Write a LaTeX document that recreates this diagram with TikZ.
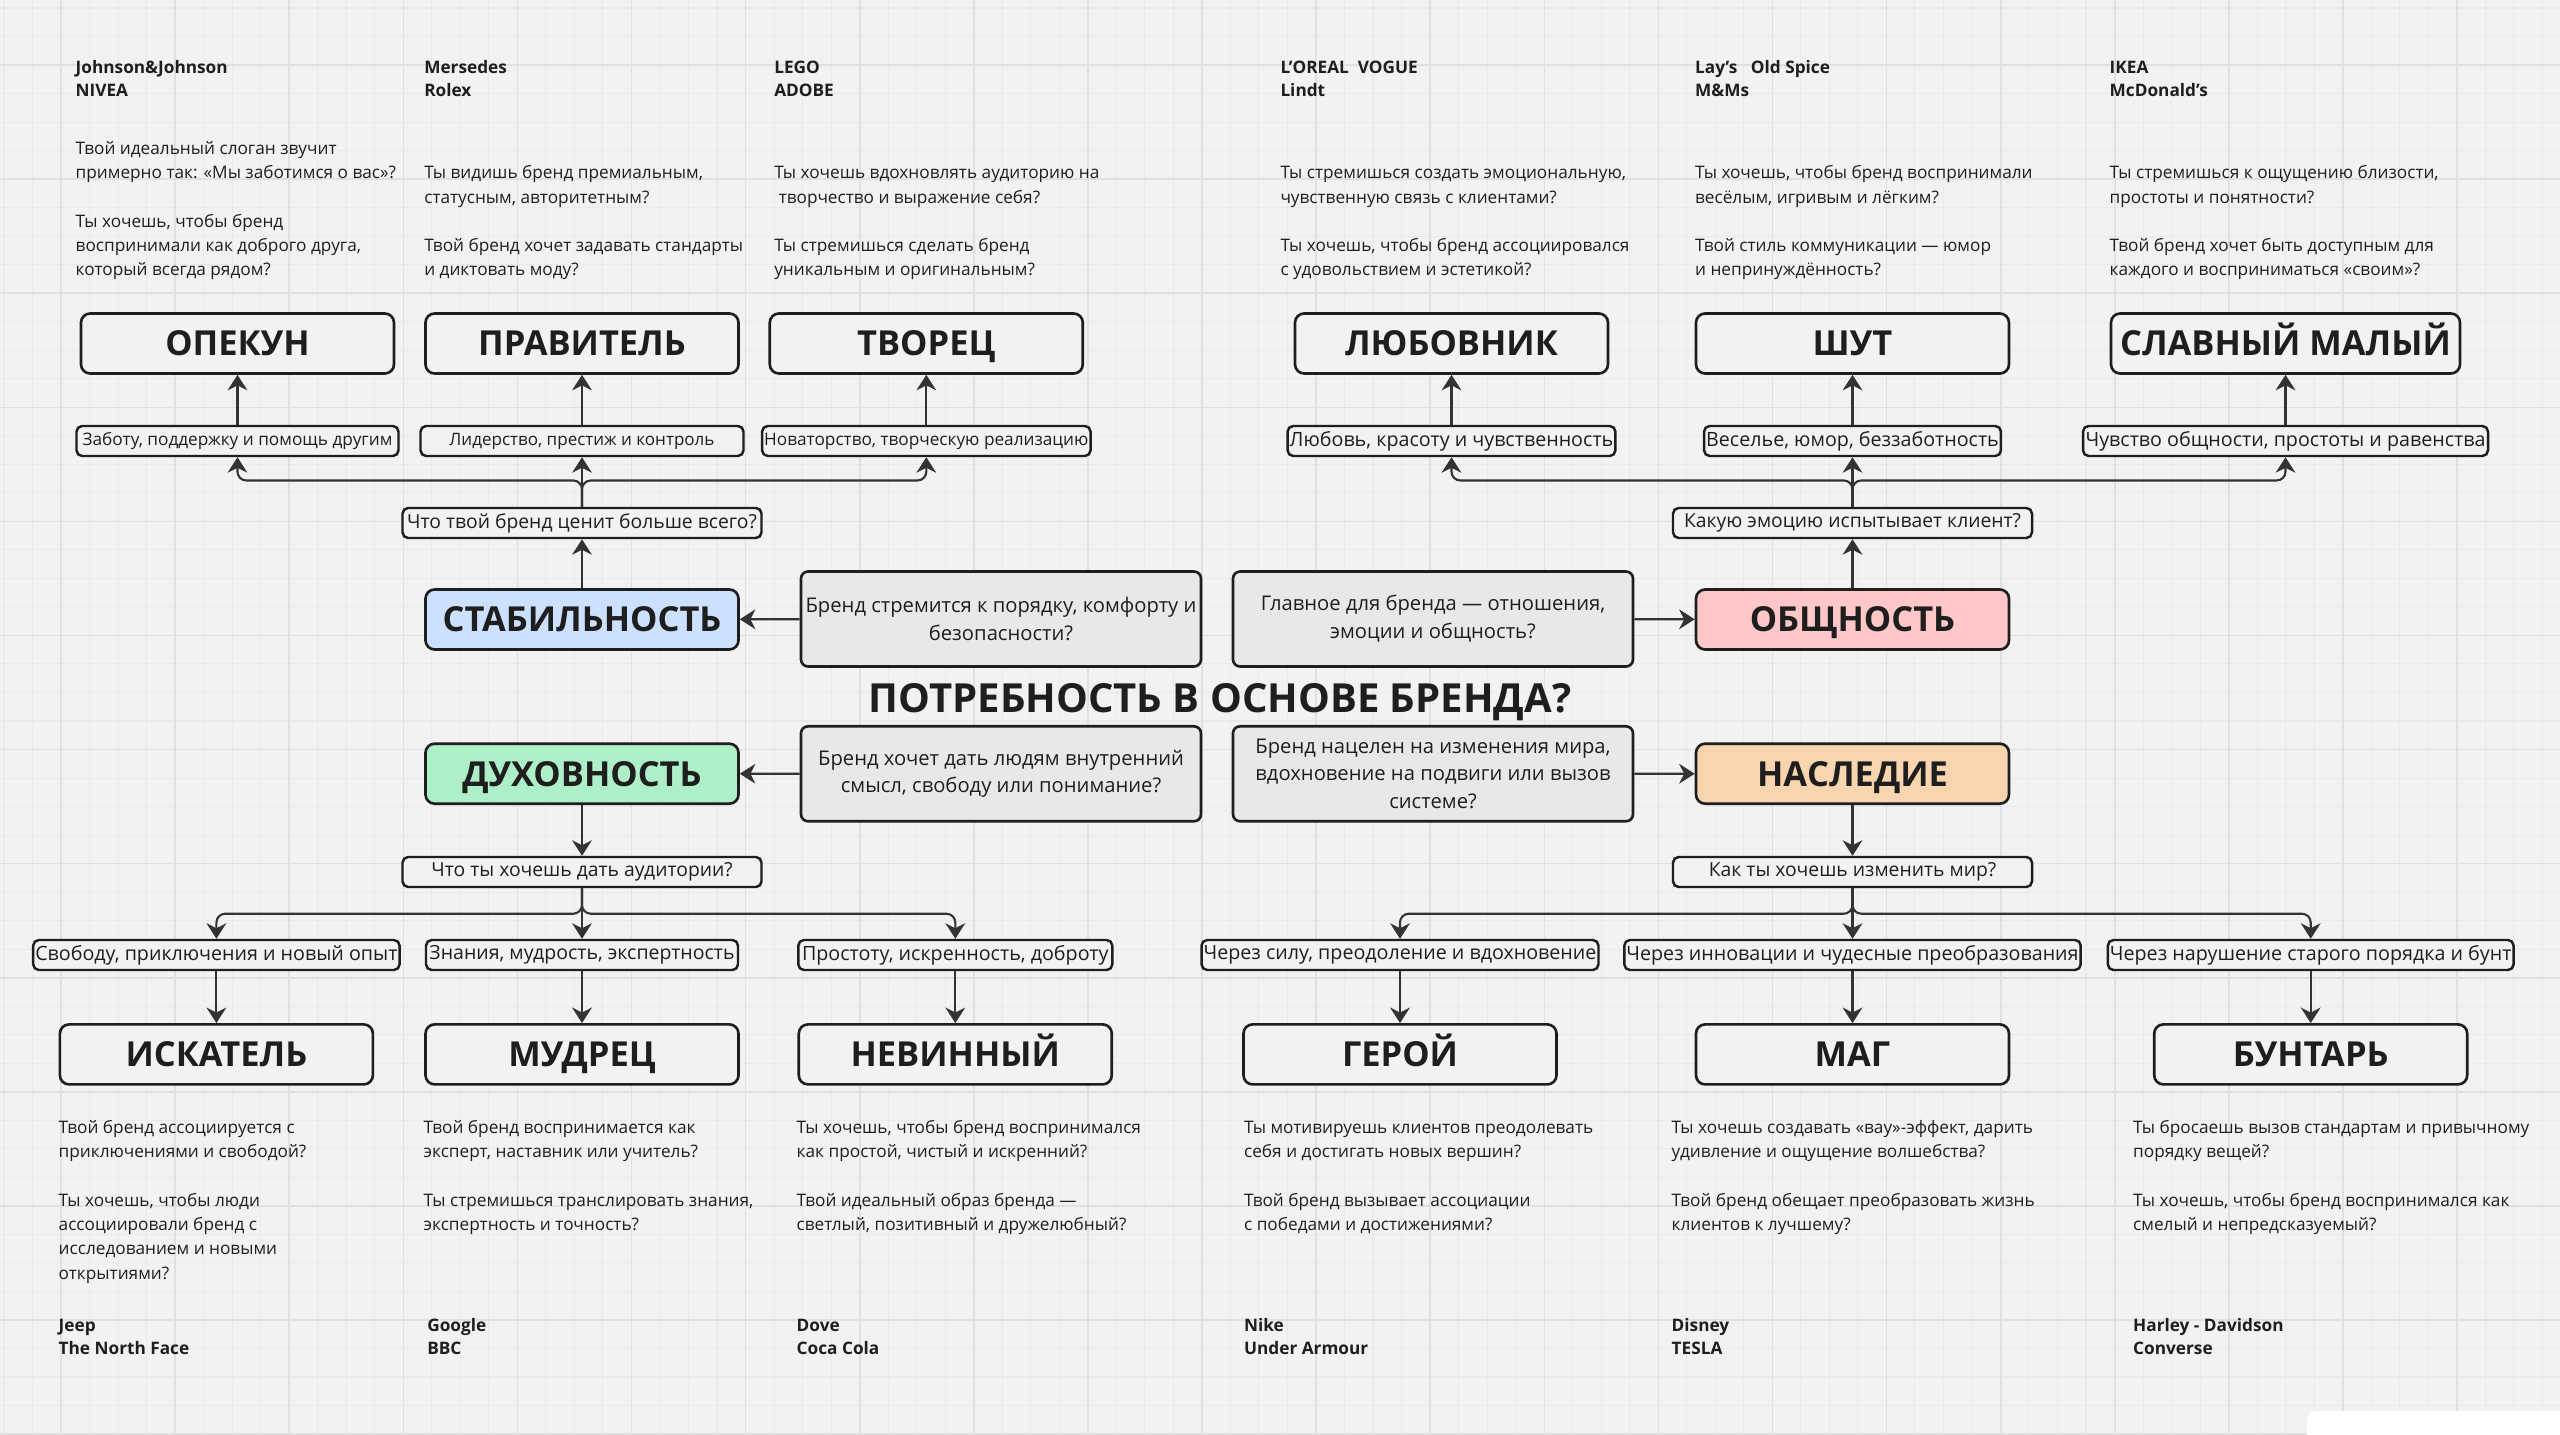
\documentclass[tikz,border=0pt]{standalone}
\usepackage{fontspec}
\setmainfont{Open Sans}
\usetikzlibrary{positioning,arrows.meta}

\definecolor{paper}{HTML}{F2F2F2}
\definecolor{gridmin}{HTML}{EAEAEA}
\definecolor{gridmaj}{HTML}{E0E0E0}
\definecolor{ink}{HTML}{1E1E1E}
\definecolor{link}{HTML}{333333}
\definecolor{greybox}{HTML}{E8E8E8}
\definecolor{stabfill}{HTML}{CCE0FF}
\definecolor{obshfill}{HTML}{FFC7C7}
\definecolor{duhfill}{HTML}{ADF0C7}
\definecolor{naslfill}{HTML}{F8D4AF}

\newcommand{\archfont}{\fontsize{9.8}{11}\selectfont\bfseries}
\newcommand{\titlefont}{\fontsize{11.4}{13}\selectfont\bfseries}
\newcommand{\cardfont}{\fontsize{5.75}{7.9}\selectfont}
\newcommand{\askfont}{\fontsize{5.5}{6}\selectfont}
\newcommand{\bodyfont}{\fontsize{4.9}{6.92}\selectfont}
\newcommand{\brandfont}{\fontsize{4.9}{6.72}\selectfont\bfseries}
\newcommand{\fsz}[1]{\fontsize{#1}{#1}\selectfont}

\begin{document}
\begin{tikzpicture}[node distance=1cm,on grid,
    arch/.style={draw=ink,fill=paper,line width=0.75pt,rounded corners=2.6pt,minimum width=3.13cm,minimum height=0.6cm,inner sep=0pt,text height=7pt,text depth=0pt,font=\archfont,text=ink},
    valbox/.style={draw=ink,fill=paper,line width=0.7pt,rounded corners=1.6pt,minimum height=0.3cm,inner xsep=0.6pt,inner ysep=0pt,text=ink},
    askbox/.style={valbox,minimum width=3.59cm,font=\askfont},
    greycard/.style={draw=ink,fill=greybox,line width=0.75pt,rounded corners=2pt,minimum width=4.0cm,minimum height=0.95cm,inner sep=0pt,align=center,font=\cardfont,text=ink},
    note/.style={anchor=base west,align=left,inner sep=0pt,font=\bodyfont,text=ink},
    brands/.style={note,font=\brandfont},
    arr/.style={draw=link,line width=0.6pt,-{Stealth[length=4.4pt,width=5.6pt,inset=1.4pt]}},
    branch/.style={arr,rounded corners=2.5pt},
    minline/.style={draw=gridmin,line width=0.3pt},
    majline/.style={draw=gridmaj,line width=0.45pt}]
	\useasboundingbox (0,0) rectangle (25.6,-14.35);
	\begin{scope}
	    \clip (0,0) rectangle (25.6,-14.35);
	    \fill[paper] (0,0) rectangle (25.6,-14.35);
	    \foreach \i in {0,...,89} \draw[minline] ({0.04+0.2852*\i},0) -- ++(0,-14.35);
	    \foreach \j in {0,...,50} \draw[minline] (0,{-0.08-0.2852*\j}) -- ++(25.6,0);
	    \foreach \i in {0,...,21} \draw[majline] ({0.61+1.141*\i},0) -- ++(0,-14.35);
	    \foreach \j in {0,...,12} \draw[majline] (0,{-0.65-1.141*\j}) -- ++(25.6,0);
	    \fill[white,rounded corners=2.5pt] (23.07,-14.11) rectangle (26,-15);
	\end{scope}

	\node[font=\titlefont,text=ink] (title) at (12.2,-7.02) {ПОТРЕБНОСТЬ В ОСНОВЕ БРЕНДА?};

	\node[arch,fill=stabfill] (stab) at (5.82,-6.195) {СТАБИЛЬНОСТЬ};
	\node[arch,fill=obshfill] (obshn) at (18.525,-6.195) {ОБЩНОСТЬ};
	\node[arch,fill=duhfill] (duhov) at (5.82,-7.737) {ДУХОВНОСТЬ};
	\node[arch,fill=naslfill] (nasled) at (18.525,-7.737) {НАСЛЕДИЕ};

	\node[greycard] (cstab) at (10.01,-6.19) {Бренд стремится к порядку, комфорту и\\безопасности?};
	\node[greycard] (cobsh) at (14.33,-6.19) {Главное для бренда — отношения,\\эмоции и общность?};
	\node[greycard] (cduh) at (10.01,-7.738) {Бренд хочет дать людям внутренний\\смысл, свободу или понимание?};
	\node[greycard] (cnasl) at (14.33,-7.738) {Бренд нацелен на изменения мира,\\вдохновение на подвиги или вызов\\системе?};

	\node[askbox,above=0.965cm of stab] (qcenit) {Что твой бренд ценит больше всего?};
	\node[valbox,above=0.82cm of qcenit,minimum width=3.23cm,font=\fsz{4.85}] (lider) {Лидерство, престиж и контроль};
	\node[valbox,left=3.445cm of lider,minimum width=3.22cm,font=\fsz{4.9}] (zabota) {Заботу, поддержку и помощь другим};
	\node[valbox,right=3.443cm of lider,minimum width=3.23cm,font=\fsz{4.9}] (novator) {Новаторство, творческую реализацию};
	\node[arch,above=0.975cm of zabota] (opekun) {ОПЕКУН};
	\node[arch,above=0.975cm of lider] (pravitel) {ПРАВИТЕЛЬ};
	\node[arch,above=0.975cm of novator] (tvorets) {ТВОРЕЦ};

	\node[askbox,above=0.965cm of obshn] (qemoc) {Какую эмоцию испытывает клиент?};
	\node[valbox,above=0.82cm of qemoc,minimum width=2.95cm,font=\fsz{5.6}] (vesele) {Веселье, юмор, беззаботность};
	\node[valbox,left=4.01cm of vesele,minimum width=3.26cm,font=\fsz{5.6}] (lyubov) {Любовь, красоту и чувственность};
	\node[valbox,right=4.33cm of vesele,minimum width=4.05cm,font=\fsz{5.6}] (obshch) {Чувство общности, простоты и равенства};
	\node[arch,above=0.975cm of lyubov] (lyubovnik) {ЛЮБОВНИК};
	\node[arch,above=0.975cm of vesele] (shut) {ШУТ};
	\node[arch,above=0.975cm of obshch,minimum width=3.49cm] (malyj) {СЛАВНЫЙ МАЛЫЙ};

	\node[askbox,below=0.983cm of duhov] (qdat) {Что ты хочешь дать аудитории?};
	\node[valbox,below=0.83cm of qdat,minimum width=3.12cm,font=\fsz{5.55}] (znanie) {Знания, мудрость, экспертность};
	\node[valbox,left=3.656cm of znanie,minimum width=3.66cm,font=\fsz{5.6}] (svoboda) {Свободу, приключения и новый опыт};
	\node[valbox,right=3.733cm of znanie,minimum width=3.14cm,font=\fsz{5.6}] (prostota) {Простоту, искренность, доброту};
	\node[arch,below=0.994cm of svoboda] (iskatel) {ИСКАТЕЛЬ};
	\node[arch,below=0.994cm of znanie] (mudrets) {МУДРЕЦ};
	\node[arch,below=0.994cm of prostota] (nevinnyj) {НЕВИННЫЙ};

	\node[askbox,below=0.983cm of nasled] (qmir) {Как ты хочешь изменить мир?};
	\node[valbox,below=0.83cm of qmir,minimum width=4.53cm,font=\fsz{5.6}] (innov) {Через инновации и чудесные преобразования};
	\node[valbox,left=4.525cm of innov,minimum width=3.96cm,font=\fsz{5.6}] (sila) {Через силу, преодоление и вдохновение};
	\node[valbox,right=4.582cm of innov,minimum width=4.04cm,font=\fsz{5.6}] (bunt) {Через нарушение старого порядка и бунт};
	\node[arch,below=0.994cm of sila] (geroj) {ГЕРОЙ};
	\node[arch,below=0.994cm of innov] (mag) {МАГ};
	\node[arch,below=0.994cm of bunt] (buntar) {БУНТАРЬ};

	\coordinate[above=0.263cm of qcenit.north] (brcenit);
	\coordinate[above=0.263cm of qemoc.north] (bremoc);
	\coordinate[below=0.255cm of qdat.south] (brdat);
	\coordinate[below=0.255cm of qmir.south] (brmir);

	\node[brands] (b-opekun) at (0.75,-0.97) {Johnson\&Johnson\\NIVEA};
	\node[brands] (b-pravitel) at (4.236,-0.97) {Mersedes\\Rolex};
	\node[brands] (b-tvorets) at (7.736,-0.97) {LEGO\\ADOBE};
	\node[brands] (b-lyubovnik) at (12.798,-0.97) {L'OREAL\ \ VOGUE\\Lindt};
	\node[brands] (b-shut) at (16.944,-0.97) {Lay's\ \ \ Old Spice\\M\&Ms};
	\node[brands] (b-malyj) at (21.09,-0.97) {IKEA\\McDonald's};

	\node[note] (t-opekun) at (0.75,-2.76) {Твой идеальный слоган звучит\\примерно так: «Мы заботимся о вас»?\\[6.92pt]Ты хочешь, чтобы бренд\\воспринимали как доброго друга,\\который всегда рядом?};
	\node[note] (t-pravitel) at (4.236,-2.76) {Ты видишь бренд премиальным,\\статусным, авторитетным?\\[6.92pt]Твой бренд хочет задавать стандарты\\и диктовать моду?};
	\node[note] (t-tvorets) at (7.736,-2.76) {Ты хочешь вдохновлять аудиторию на\\\hspace*{1.3pt}творчество и выражение себя?\\[6.92pt]Ты стремишься сделать бренд\\уникальным и оригинальным?};
	\node[note] (t-lyubovnik) at (12.798,-2.76) {Ты стремишься создать эмоциональную,\\чувственную связь с клиентами?\\[6.92pt]Ты хочешь, чтобы бренд ассоциировался\\с удовольствием и эстетикой?};
	\node[note] (t-shut) at (16.944,-2.76) {Ты хочешь, чтобы бренд воспринимали\\весёлым, игривым и лёгким?\\[6.92pt]Твой стиль коммуникации — юмор\\и непринуждённость?};
	\node[note] (t-malyj) at (21.09,-2.76) {Ты стремишься к ощущению близости,\\простоты и понятности?\\[6.92pt]Твой бренд хочет быть доступным для\\каждого и восприниматься «своим»?};

	\node[note] (t-iskatel) at (0.58,-12.793) {Твой бренд ассоциируется с\\приключениями и свободой?\\[6.92pt]Ты хочешь, чтобы люди\\ассоциировали бренд с\\исследованием и новыми\\открытиями?};
	\node[note] (t-mudrets) at (4.23,-12.307) {Твой бренд воспринимается как\\эксперт, наставник или учитель?\\[6.92pt]Ты стремишься транслировать знания,\\экспертность и точность?};
	\node[note] (t-nevinnyj) at (7.96,-12.307) {Ты хочешь, чтобы бренд воспринимался\\как простой, чистый и искренний?\\[6.92pt]Твой идеальный образ бренда —\\светлый, позитивный и дружелюбный?};
	\node[note] (t-geroj) at (12.434,-12.307) {Ты мотивируешь клиентов преодолевать\\себя и достигать новых вершин?\\[6.92pt]Твой бренд вызывает ассоциации\\с победами и достижениями?};
	\node[note] (t-mag) at (16.71,-12.307) {Ты хочешь создавать «вау»-эффект, дарить\\удивление и ощущение волшебства?\\[6.92pt]Твой бренд обещает преобразовать жизнь\\клиентов к лучшему?};
	\node[note] (t-buntar) at (21.325,-12.307) {Ты бросаешь вызов стандартам и привычному\\порядку вещей?\\[6.92pt]Ты хочешь, чтобы бренд воспринимался как\\смелый и непредсказуемый?};

	\node[brands] (b-iskatel) at (0.58,-13.548) {Jeep\\The North Face};
	\node[brands] (b-mudrets) at (4.266,-13.548) {Google\\BBC};
	\node[brands] (b-nevinnyj) at (7.96,-13.548) {Dove\\Coca Cola};
	\node[brands] (b-geroj) at (12.434,-13.548) {Nike\\Under Armour};
	\node[brands] (b-mag) at (16.71,-13.548) {Disney\\TESLA};
	\node[brands] (b-buntar) at (21.325,-13.548) {Harley - Davidson\\Converse};

	\path (cstab) edge[arr] (stab)
	    (cobsh) edge[arr] (obshn)
	    (cduh) edge[arr] (duhov)
	    (cnasl) edge[arr] (nasled)
	    (stab) edge[arr] (qcenit)
	    (obshn) edge[arr] (qemoc)
	    (duhov) edge[arr] (qdat)
	    (nasled) edge[arr] (qmir)
	    (qcenit) edge[arr] (lider)
	    (qemoc) edge[arr] (vesele)
	    (qdat) edge[arr] (znanie)
	    (qmir) edge[arr] (innov)
	    (zabota) edge[arr] (opekun)
	    (lider) edge[arr] (pravitel)
	    (novator) edge[arr] (tvorets)
	    (lyubov) edge[arr] (lyubovnik)
	    (vesele) edge[arr] (shut)
	    (obshch) edge[arr] (malyj)
	    (svoboda) edge[arr] (iskatel)
	    (znanie) edge[arr] (mudrets)
	    (prostota) edge[arr] (nevinnyj)
	    (sila) edge[arr] (geroj)
	    (innov) edge[arr] (mag)
	    (bunt) edge[arr] (buntar);
	\draw[branch] (qcenit.north) -- (brcenit) -| (zabota.south);
	\draw[branch] (qcenit.north) -- (brcenit) -| (novator.south);
	\draw[branch] (qemoc.north) -- (bremoc) -| (lyubov.south);
	\draw[branch] (qemoc.north) -- (bremoc) -| (obshch.south);
	\draw[branch] (qdat.south) -- (brdat) -| (svoboda.north);
	\draw[branch] (qdat.south) -- (brdat) -| (prostota.north);
	\draw[branch] (qmir.south) -- (brmir) -| (sila.north);
	\draw[branch] (qmir.south) -- (brmir) -| (bunt.north);
\end{tikzpicture}
\end{document}
